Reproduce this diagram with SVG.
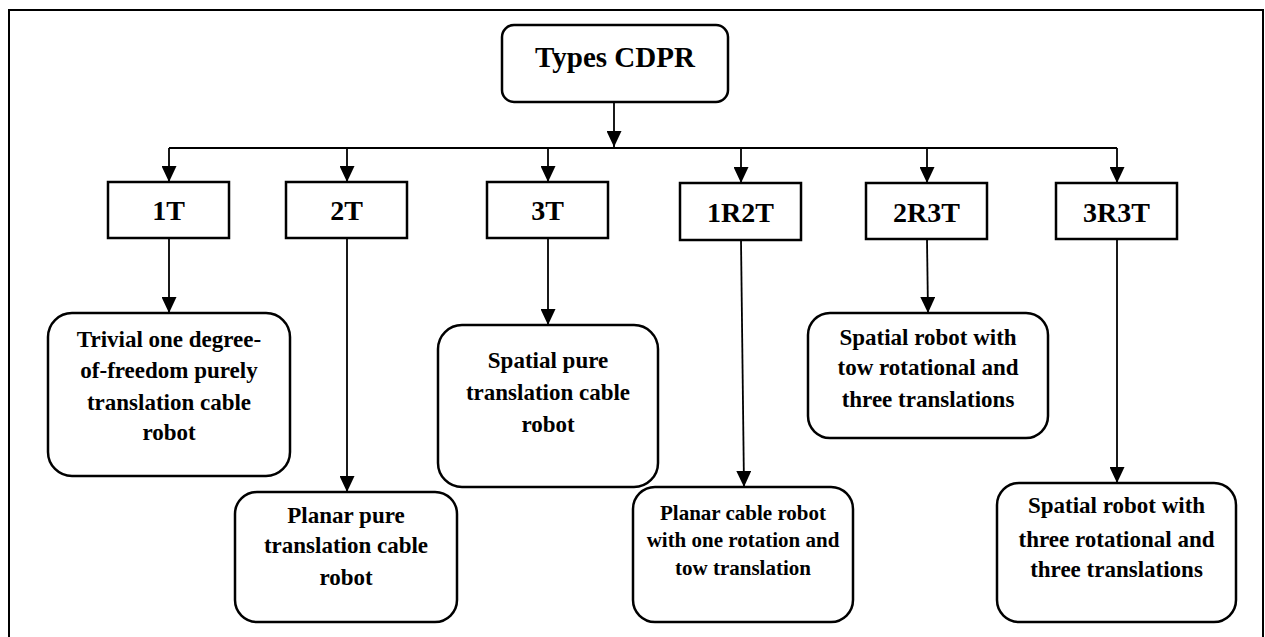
<svg xmlns="http://www.w3.org/2000/svg" width="1265" height="637" viewBox="0 0 1265 637">
<defs>
<marker id="ah" markerUnits="userSpaceOnUse" markerWidth="16" markerHeight="15" refX="16" refY="7.5" orient="auto">
<path d="M0,0 L16,7.5 L0,15 z" fill="#000"/>
</marker>
<style>
.box{fill:#fff;stroke:#000;stroke-width:2.5}
.ln{fill:none;stroke:#000;stroke-width:1.8}
.arr{fill:none;stroke:#000;stroke-width:1.8;marker-end:url(#ah)}
text{font-family:"Liberation Serif","Times New Roman",serif;font-weight:bold;fill:#000;text-anchor:middle}
.t1{font-size:29px}
.t2{font-size:28px}
.t3{font-size:23px}
.t4{font-size:21px}
</style>
</defs>
<rect width="1265" height="637" fill="#fff"/>
<path d="M9,645 V10 H1263 V645" fill="none" stroke="#000" stroke-width="2"/>
<g id="connectors">
<line class="arr" x1="614" y1="102" x2="614" y2="147"/>
<line class="ln" x1="169" y1="148" x2="1117" y2="148"/>
<line class="arr" x1="169" y1="148" x2="169" y2="182"/>
<line class="arr" x1="347" y1="148" x2="347" y2="182"/>
<line class="arr" x1="548" y1="148" x2="548" y2="182"/>
<line class="arr" x1="741" y1="148" x2="741" y2="183"/>
<line class="arr" x1="927" y1="148" x2="927" y2="183"/>
<line class="arr" x1="1117" y1="148" x2="1117" y2="183"/>
<line class="arr" x1="169" y1="238" x2="169" y2="313"/>
<line class="arr" x1="347" y1="238" x2="347" y2="492"/>
<line class="arr" x1="548" y1="238" x2="548" y2="325"/>
<line class="arr" x1="741" y1="240" x2="744" y2="487"/>
<line class="arr" x1="927" y1="239" x2="928" y2="313"/>
<line class="arr" x1="1117" y1="239" x2="1117" y2="483"/>
</g>
<g id="root">
<rect class="box" x="502" y="25" width="226" height="77" rx="12"/>
<text class="t1" x="615" y="67">Types CDPR</text>
</g>
<g id="n1T"><rect class="box" x="108" y="182" width="121" height="56"/><text class="t2" x="168.5" y="220">1T</text></g>
<g id="n2T"><rect class="box" x="286" y="182" width="121" height="56"/><text class="t2" x="346.5" y="220">2T</text></g>
<g id="n3T"><rect class="box" x="487" y="182" width="121" height="56"/><text class="t2" x="547.5" y="220">3T</text></g>
<g id="n1R2T"><rect class="box" x="680" y="183" width="121" height="57"/><text class="t2" x="740.5" y="221.5">1R2T</text></g>
<g id="n2R3T"><rect class="box" x="866" y="183" width="121" height="56"/><text class="t2" x="926.5" y="221.5">2R3T</text></g>
<g id="n3R3T"><rect class="box" x="1056" y="183" width="121" height="56"/><text class="t2" x="1116.5" y="221.5">3R3T</text></g>
<g id="trivial">
<rect class="box" x="48" y="313" width="242" height="163" rx="24"/>
<text class="t3" x="169" y="347">Trivial one degree-</text>
<text class="t3" x="169" y="378">of-freedom purely</text>
<text class="t3" x="169" y="410">translation cable</text>
<text class="t3" x="169" y="440">robot</text>
</g>
<g id="planarPure">
<rect class="box" x="235" y="492" width="222" height="130" rx="22"/>
<text class="t3" x="346" y="523">Planar pure</text>
<text class="t3" x="346" y="553">translation cable</text>
<text class="t3" x="346" y="585">robot</text>
</g>
<g id="spatialPure">
<rect class="box" x="438" y="325" width="220" height="162" rx="24"/>
<text class="t3" x="548" y="368">Spatial pure</text>
<text class="t3" x="548" y="400">translation cable</text>
<text class="t3" x="548" y="432">robot</text>
</g>
<g id="planarCable">
<rect class="box" x="633" y="487" width="220" height="135" rx="22"/>
<text class="t4" x="743" y="520">Planar cable robot</text>
<text class="t4" x="743" y="547">with one rotation and</text>
<text class="t4" x="743" y="575">tow translation</text>
</g>
<g id="spatialTow">
<rect class="box" x="808" y="313" width="240" height="125" rx="22"/>
<text class="t3" x="928" y="345">Spatial robot with</text>
<text class="t3" x="928" y="375">tow rotational and</text>
<text class="t3" x="928" y="407">three translations</text>
</g>
<g id="spatialThree">
<rect class="box" x="997" y="483" width="239" height="139" rx="22"/>
<text class="t3" x="1116.5" y="513">Spatial robot with</text>
<text class="t3" x="1116.5" y="547">three rotational and</text>
<text class="t3" x="1116.5" y="577">three translations</text>
</g>
</svg>
